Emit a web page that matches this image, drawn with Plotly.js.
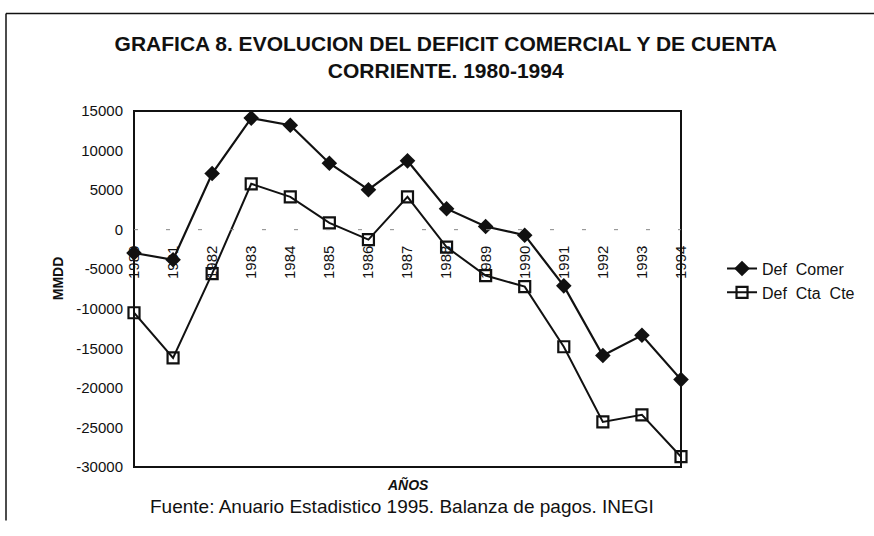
<!DOCTYPE html>
<html>
<head>
<meta charset="utf-8">
<script src="https://cdn.plot.ly/plotly-3.0.1.min.js"></script>
<style>
  html, body { margin: 0; padding: 0; background: #fff; }
  #chart { width: 874px; height: 536px; }
</style>
</head>
<body>
<div id="chart"></div>
<script>
const years = ["1980", "1981", "1982", "1983", "1984", "1985", "1986", "1987",
  "1988", "1989", "1990", "1991", "1992", "1993", "1994"];
const defComer = [-2950, -3800, 7100, 14100, 13200, 8400, 5050, 8700,
  2650, 400, -700, -7100, -15900, -13350, -18950];
const defCtaCte = [-10500, -16200, -5550, 5800, 4150, 850, -1250, 4150,
  -2200, -5800, -7200, -14800, -24300, -23400, -28700];
const yTickVals = [15000, 10000, 5000, 0, -5000, -10000, -15000, -20000, -25000, -30000];
const yTickText = ["15000", "10000", "5000", "0", "-5000", "-10000", "-15000", "-20000", "-25000", "-30000"];

const font = "'Liberation Sans', Arial, sans-serif";
const ink = "#111";

const traces = [
  {
    x: years,
    y: defComer,
    type: "scatter",
    mode: "lines+markers",
    name: "Def  Comer",
    line: { color: ink, width: 2.2 },
    marker: { symbol: "diamond", size: 12, color: ink },
    cliponaxis: false,
  },
  {
    x: years,
    y: defCtaCte,
    type: "scatter",
    mode: "lines+markers",
    name: "Def  Cta  Cte",
    line: { color: ink, width: 2 },
    marker: { symbol: "square-open", size: 11, color: ink, line: { width: 2.2, color: ink } },
    cliponaxis: false,
  },
];

const layout = {
  width: 874,
  height: 536,
  paper_bgcolor: "#fff",
  plot_bgcolor: "#fff",
  font: { family: font, color: ink, size: 15 },
  margin: { l: 134, r: 193, t: 111, b: 69 },
  showlegend: true,
  title: {
    text: "GRAFICA 8. EVOLUCION DEL DEFICIT COMERCIAL Y DE CUENTA<br>CORRIENTE. 1980-1994",
    font: { family: font, size: 21, color: ink, weight: "bold" },
    xref: "container",
    x: 0.51,
    xanchor: "center",
    yref: "container",
    y: 0.905,
    yanchor: "top",
  },
  xaxis: {
    type: "category",
    range: [0, 14],
    anchor: "free",
    position: 30000 / 45000,
    showline: false,
    showgrid: false,
    zeroline: false,
    ticks: "",
    tickangle: -90,
    ticklabelstandoff: 12,
    tickfont: { size: 15, family: font, color: ink },
  },
  yaxis: {
    range: [-30000, 15000],
    tickvals: yTickVals,
    ticktext: yTickText,
    showgrid: false,
    zeroline: false,
    showline: false,
    ticks: "",
    ticklabelstandoff: 10,
    tickfont: { size: 15, family: font, color: ink },
  },
  legend: {
    x: 1.075,
    xanchor: "left",
    y: 0.605,
    yanchor: "top",
    font: { size: 16, family: font, color: ink },
    bgcolor: "rgba(0,0,0,0)",
    tracegroupgap: 0,
  },
  shapes: [
    // plot frame
    { type: "rect", xref: "paper", yref: "paper", x0: 0, x1: 1, y0: 0, y1: 1,
      line: { color: ink, width: 2 } },
    // zero reference line
    { type: "line", xref: "paper", yref: "y", x0: 0, x1: 1, y0: 0, y1: 0,
      line: { color: "#888", width: 1, dash: "4px,28px" } },
    // outer page border (top and left only)
    { type: "line", xref: "paper", yref: "paper", x0: -0.234, x1: 1.36, y0: 1.274, y1: 1.274,
      line: { color: ink, width: 1.5 } },
    { type: "line", xref: "paper", yref: "paper", x0: -0.234, x1: -0.234, y0: 1.274, y1: -0.15,
      line: { color: ink, width: 1.5 } },
  ],
  annotations: [
    {
      text: "MMDD", textangle: -90, showarrow: false,
      xref: "paper", yref: "paper", x: -0.139, y: 0.53, xanchor: "center", yanchor: "middle",
      font: { size: 14, family: font, color: ink, weight: "bold" },
    },
    {
      text: "<i>AÑOS</i>", showarrow: false,
      xref: "paper", yref: "paper", x: 0.5, y: -0.02, xanchor: "center", yanchor: "top",
      font: { size: 14, family: font, color: ink, weight: "bold" },
    },
    {
      text: "Fuente: Anuario Estadistico 1995. Balanza de pagos. INEGI", showarrow: false,
      xref: "paper", yref: "paper", x: 0.49, y: -0.075, xanchor: "center", yanchor: "top",
      font: { size: 19, family: font, color: ink },
    },
  ],
};

Plotly.newPlot("chart", traces, layout, { staticPlot: true });
</script>
</body>
</html>
